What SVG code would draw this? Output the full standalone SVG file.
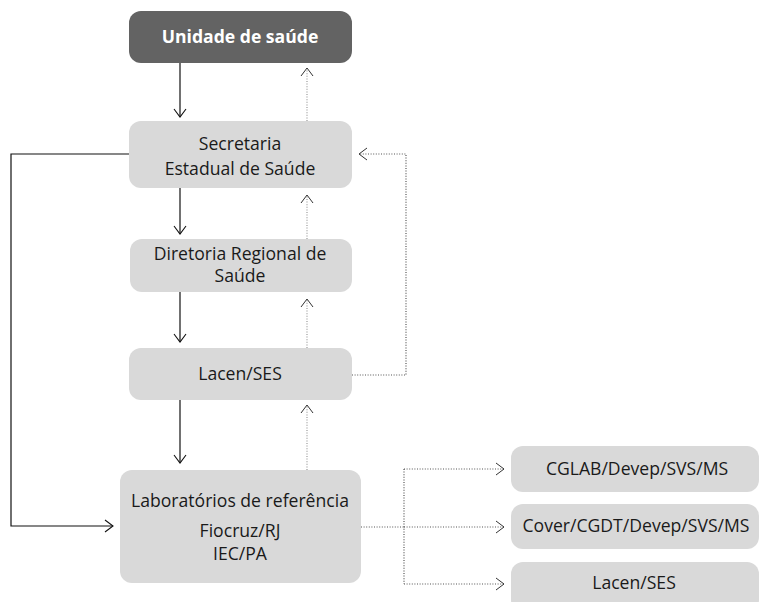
<svg xmlns="http://www.w3.org/2000/svg" width="759" height="602" viewBox="0 0 759 602">
<style>
.box{fill:#d9d9d9}
.dark{fill:#636363}
text{font-family:"Open Sans","Noto Sans","Liberation Sans",sans-serif;font-size:17.6px;fill:#1a1a1a;text-anchor:middle}
.w{fill:#ffffff;font-weight:bold}
.solid{fill:none;stroke:#111;stroke-width:1.2}
.dot{fill:none;stroke:#555;stroke-width:1.2;stroke-dasharray:1 1.6}
.dotl{fill:none;stroke:#999;stroke-width:1.2;stroke-dasharray:1 1.6}
</style>
<defs>
<marker id="a" viewBox="0 0 10 14" refX="9" refY="7" markerWidth="10" markerHeight="14" markerUnits="userSpaceOnUse" orient="auto">
<polyline points="1,1 9,7 1,13" fill="none" stroke="#111" stroke-width="1.1"/>
</marker>
<marker id="ad" viewBox="0 0 10 14" refX="9" refY="7" markerWidth="10" markerHeight="14" markerUnits="userSpaceOnUse" orient="auto">
<polyline points="1,1 9,7 1,13" fill="none" stroke="#333" stroke-width="1"/>
</marker>
</defs>
<g id="connectors">
<line class="solid" x1="180" y1="63" x2="180" y2="117" marker-end="url(#a)"/>
<line class="solid" x1="180" y1="188" x2="180" y2="234" marker-end="url(#a)"/>
<line class="solid" x1="180" y1="292" x2="180" y2="342" marker-end="url(#a)"/>
<line class="solid" x1="180" y1="400" x2="180" y2="463" marker-end="url(#a)"/>
<line class="dotl" x1="307" y1="121" x2="307" y2="68" marker-end="url(#ad)"/>
<line class="dotl" x1="307" y1="239" x2="307" y2="195" marker-end="url(#ad)"/>
<line class="dotl" x1="307" y1="348" x2="307" y2="299" marker-end="url(#ad)"/>
<line class="dotl" x1="307" y1="470" x2="307" y2="405" marker-end="url(#ad)"/>
<polyline class="solid" points="129,154 11,154 11,526 113,526" marker-end="url(#a)"/>
<polyline class="dot" points="352,375 406,375 406,154 359,154" marker-end="url(#ad)"/>
<line class="dot" x1="361" y1="527" x2="404" y2="527"/>
<line class="dot" x1="404" y1="469" x2="404" y2="584"/>
<line class="dot" x1="404" y1="469" x2="504" y2="469" marker-end="url(#ad)"/>
<line class="dot" x1="404" y1="527" x2="504" y2="527" marker-end="url(#ad)"/>
<line class="dot" x1="404" y1="584" x2="504" y2="584" marker-end="url(#ad)"/>
</g>
<g id="unidade">
<rect class="dark" x="129" y="11" width="223" height="52" rx="12"/>
<text class="w" x="240" y="43">Unidade de saúde</text>
</g>
<g id="secretaria">
<rect class="box" x="129" y="121" width="223" height="67" rx="12"/>
<text x="240" y="150">Secretaria</text>
<text x="240" y="175">Estadual de Saúde</text>
</g>
<g id="diretoria">
<rect class="box" x="130" y="239" width="222" height="53" rx="12"/>
<text x="240" y="260">Diretoria Regional de</text>
<text x="240" y="282">Saúde</text>
</g>
<g id="lacen">
<rect class="box" x="129" y="348" width="223" height="52" rx="12"/>
<text x="240" y="380">Lacen/SES</text>
</g>
<g id="laboratorios">
<rect class="box" x="120" y="470" width="241" height="113" rx="12"/>
<text x="240" y="507">Laboratórios de referência</text>
<text x="240" y="537">Fiocruz/RJ</text>
<text x="240" y="560">IEC/PA</text>
</g>
<g id="cglab">
<rect class="box" x="511" y="446" width="248" height="46" rx="12"/>
<text x="637" y="475">CGLAB/Devep/SVS/MS</text>
</g>
<g id="cover">
<rect class="box" x="511" y="504" width="248" height="45" rx="12"/>
<text x="636" y="532">Cover/CGDT/Devep/SVS/MS</text>
</g>
<g id="lacen2">
<rect class="box" x="511" y="562" width="248" height="50" rx="12"/>
<text x="634" y="589">Lacen/SES</text>
</g>
</svg>
